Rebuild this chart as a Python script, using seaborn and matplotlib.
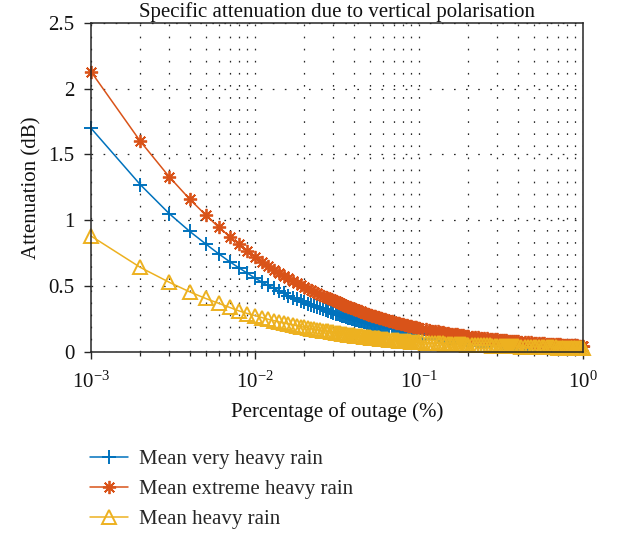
import matplotlib
matplotlib.use("Agg")
import matplotlib.pyplot as plt
import matplotlib.ticker as mticker
import numpy as np
import pandas as pd
import seaborn as sns

# Outage percentage (%)
outage = [
    0.001, 0.002, 0.003, 0.004, 0.005, 0.006, 0.007, 0.008, 0.009, 0.010,
    0.011, 0.012, 0.013, 0.014, 0.015, 0.016, 0.017, 0.018, 0.019, 0.020,
    0.021, 0.022, 0.023, 0.024, 0.025, 0.026, 0.027, 0.028, 0.029, 0.030,
    0.031, 0.032, 0.033, 0.034, 0.035, 0.036, 0.037, 0.038, 0.039, 0.040,
    0.041, 0.042, 0.043, 0.044, 0.045, 0.046, 0.047, 0.048, 0.049, 0.050,
    0.051, 0.052, 0.053, 0.054, 0.055, 0.056, 0.057, 0.058, 0.059, 0.060,
    0.062, 0.064, 0.066, 0.068, 0.070, 0.072, 0.074, 0.076, 0.078, 0.080,
    0.082, 0.084, 0.086, 0.088, 0.090, 0.092, 0.094, 0.096, 0.098, 0.100,
    0.105, 0.110, 0.115, 0.120, 0.125, 0.130, 0.135, 0.140, 0.145, 0.150,
    0.155, 0.160, 0.165, 0.170, 0.175, 0.180, 0.185, 0.190, 0.195, 0.200,
    0.21, 0.22, 0.23, 0.24, 0.25, 0.26, 0.27, 0.28, 0.29, 0.30,
    0.31, 0.32, 0.33, 0.34, 0.35, 0.36, 0.37, 0.38, 0.39, 0.40,
    0.42, 0.44, 0.46, 0.48, 0.50, 0.52, 0.54, 0.56, 0.58, 0.60,
    0.62, 0.64, 0.66, 0.68, 0.70, 0.72, 0.74, 0.76, 0.78, 0.80,
    0.82, 0.84, 0.86, 0.88, 0.90, 0.92, 0.94, 0.96, 0.98, 1.00,
]

# Attenuation (dB) for each rain class
very_heavy = [
    1.70, 1.27, 1.05, 0.915, 0.82, 0.745, 0.685, 0.637, 0.596, 0.560,
    0.530, 0.504, 0.481, 0.461, 0.443, 0.426, 0.412, 0.398, 0.386, 0.375,
    0.364, 0.354, 0.345, 0.337, 0.329, 0.322, 0.315, 0.308, 0.302, 0.296,
    0.290, 0.284, 0.279, 0.274, 0.269, 0.264, 0.260, 0.256, 0.252, 0.248,
    0.244, 0.240, 0.237, 0.233, 0.230, 0.227, 0.224, 0.221, 0.218, 0.216,
    0.213, 0.210, 0.208, 0.206, 0.203, 0.201, 0.199, 0.197, 0.195, 0.193,
    0.189, 0.185, 0.182, 0.178, 0.175, 0.172, 0.169, 0.166, 0.164, 0.161,
    0.159, 0.156, 0.154, 0.152, 0.150, 0.148, 0.146, 0.144, 0.142, 0.140,
    0.136, 0.132, 0.128, 0.125, 0.122, 0.119, 0.116, 0.114, 0.111, 0.109,
    0.107, 0.105, 0.103, 0.101, 0.0990, 0.0972, 0.0956, 0.0940, 0.0925, 0.0911,
    0.0884, 0.0859, 0.0835, 0.0814, 0.0793, 0.0774, 0.0756, 0.0739, 0.0724, 0.0708,
    0.0694, 0.0681, 0.0668, 0.0656, 0.0644, 0.0633, 0.0622, 0.0612, 0.0602, 0.0593,
    0.0575, 0.0559, 0.0544, 0.0529, 0.0516, 0.0504, 0.0492, 0.0481, 0.0471, 0.0461,
    0.0452, 0.0443, 0.0435, 0.0427, 0.0419, 0.0412, 0.0405, 0.0398, 0.0392, 0.0386,
    0.0380, 0.0374, 0.0369, 0.0364, 0.0359, 0.0354, 0.0349, 0.0345, 0.0340, 0.0336,
]
extreme_heavy = [
    2.13, 1.60, 1.33, 1.16, 1.04, 0.948, 0.876, 0.816, 0.766, 0.723,
    0.686, 0.653, 0.625, 0.600, 0.577, 0.557, 0.539, 0.522, 0.506, 0.492,
    0.479, 0.467, 0.455, 0.445, 0.435, 0.425, 0.417, 0.408, 0.400, 0.393,
    0.385, 0.377, 0.369, 0.362, 0.356, 0.349, 0.343, 0.337, 0.331, 0.326,
    0.321, 0.316, 0.311, 0.306, 0.302, 0.298, 0.294, 0.290, 0.286, 0.282,
    0.278, 0.275, 0.271, 0.268, 0.265, 0.262, 0.259, 0.256, 0.253, 0.250,
    0.245, 0.240, 0.235, 0.231, 0.227, 0.222, 0.219, 0.215, 0.211, 0.208,
    0.204, 0.201, 0.198, 0.195, 0.192, 0.190, 0.187, 0.185, 0.182, 0.180,
    0.175, 0.170, 0.166, 0.161, 0.157, 0.154, 0.150, 0.147, 0.144, 0.141,
    0.138, 0.136, 0.133, 0.131, 0.129, 0.127, 0.124, 0.122, 0.121, 0.119,
    0.115, 0.112, 0.109, 0.106, 0.104, 0.101, 0.0992, 0.0970, 0.0950, 0.0931,
    0.0913, 0.0896, 0.0879, 0.0864, 0.0849, 0.0835, 0.0821, 0.0808, 0.0795, 0.0784,
    0.0761, 0.0740, 0.0720, 0.0702, 0.0685, 0.0669, 0.0654, 0.0640, 0.0627, 0.0614,
    0.0602, 0.0591, 0.0580, 0.0570, 0.0560, 0.0551, 0.0542, 0.0533, 0.0525, 0.0517,
    0.0509, 0.0502, 0.0495, 0.0488, 0.0482, 0.0475, 0.0469, 0.0463, 0.0458, 0.0452,
]
heavy = [
    0.880, 0.641, 0.528, 0.455, 0.405, 0.368, 0.337, 0.310, 0.290, 0.274,
    0.260, 0.247, 0.237, 0.227, 0.218, 0.211, 0.204, 0.197, 0.191, 0.186,
    0.181, 0.176, 0.172, 0.168, 0.164, 0.160, 0.157, 0.154, 0.151, 0.148,
    0.145, 0.142, 0.140, 0.137, 0.135, 0.133, 0.130, 0.128, 0.126, 0.125,
    0.123, 0.121, 0.119, 0.118, 0.116, 0.115, 0.113, 0.112, 0.110, 0.109,
    0.108, 0.106, 0.105, 0.104, 0.103, 0.102, 0.101, 0.0996, 0.0986, 0.0977,
    0.0957, 0.0939, 0.0922, 0.0906, 0.0890, 0.0875, 0.0861, 0.0847, 0.0834, 0.0822,
    0.0810, 0.0798, 0.0787, 0.0776, 0.0766, 0.0756, 0.0746, 0.0736, 0.0727, 0.0719,
    0.0704, 0.0691, 0.0678, 0.0666, 0.0655, 0.0644, 0.0634, 0.0624, 0.0615, 0.0606,
    0.0598, 0.0590, 0.0583, 0.0575, 0.0568, 0.0562, 0.0555, 0.0549, 0.0543, 0.0537,
    0.0526, 0.0516, 0.0507, 0.0498, 0.0489, 0.0481, 0.0474, 0.0467, 0.0460, 0.0453,
    0.0447, 0.0441, 0.0435, 0.0430, 0.0425, 0.0420, 0.0415, 0.0410, 0.0406, 0.0402,
    0.0394, 0.0386, 0.0379, 0.0372, 0.0366, 0.0360, 0.0354, 0.0349, 0.0344, 0.0339,
    0.0334, 0.0330, 0.0325, 0.0321, 0.0318, 0.0314, 0.0310, 0.0307, 0.0303, 0.0300,
    0.0297, 0.0294, 0.0291, 0.0288, 0.0286, 0.0283, 0.0281, 0.0278, 0.0276, 0.0273,
]

series_names = ["Mean very heavy rain", "Mean extreme heavy rain", "Mean heavy rain"]
y_ticks = [0, 0.5, 1, 1.5, 2, 2.5]
y_tick_labels = ["0", "0.5", "1", "1.5", "2", "2.5"]
x_ticks = [1e-3, 1e-2, 1e-1, 1e0]
x_tick_labels = [r"$10^{-3}$", r"$10^{-2}$", r"$10^{-1}$", r"$10^{0}$"]

sns.set_theme(style="ticks")
plt.rcParams["font.family"] = ["Liberation Serif", "DejaVu Serif"]
plt.rcParams["mathtext.fontset"] = "custom"
plt.rcParams["mathtext.rm"] = "Liberation Serif"
plt.rcParams["mathtext.it"] = "Liberation Serif:italic"
plt.rcParams["lines.scale_dashes"] = False

FS = 15
axis_col = "#262626"
text_col = "#111111"

fig = plt.figure(figsize=(6.2, 5.35), dpi=100)
ax = fig.add_axes([91 / 620, 1 - 351.7 / 535, (583 - 91) / 620, (351.7 - 23) / 535])

styles = [
    dict(color="#0072BD", marker="+", markersize=9.5, markeredgewidth=1.4),
    dict(color="#D95319", marker=(8, 2, 0), markersize=9.5, markeredgewidth=1.3),
    dict(color="#EDB120", marker="^", markersize=9.5, markeredgewidth=1.4,
         markerfacecolor="none"),
]
for name, vals, st in zip(series_names, [very_heavy, extreme_heavy, heavy], styles):
    df = pd.DataFrame({"outage": outage, "att": vals})
    sns.lineplot(data=df, x="outage", y="att", ax=ax, label=name,
                 linewidth=1.1, clip_on=False, estimator=None,
                 markeredgecolor=st["color"], **st)

ax.set_xscale("log")
ax.set_xlim(1e-3, 1)
ax.set_ylim(0, 2.5)
ax.set_xticks(x_ticks)
ax.set_xticklabels(x_tick_labels)
ax.xaxis.set_minor_locator(mticker.LogLocator(base=10, subs=np.arange(2, 10)))
ax.xaxis.set_minor_formatter(mticker.NullFormatter())
ax.set_yticks(y_ticks)
ax.set_yticklabels(y_tick_labels)

dots = (0, (1.2, 7.5))
ax.grid(True, which="major", axis="both", color=axis_col, linestyle=dots, linewidth=0.9)
ax.grid(True, which="minor", axis="x", color=axis_col, linestyle=dots, linewidth=0.9)
ax.set_axisbelow(True)

for side in ["left", "bottom", "top", "right"]:
    ax.spines[side].set_visible(True)
    ax.spines[side].set_color(axis_col)
    ax.spines[side].set_linewidth(1.1)

ax.tick_params(axis="both", which="major", direction="out", length=5, width=1.0,
               colors=axis_col, labelsize=FS, labelcolor=text_col)
ax.tick_params(axis="x", which="major", pad=9)
ax.tick_params(axis="y", which="major", pad=7)
ax.tick_params(axis="x", which="minor", direction="out", length=3, width=0.9, colors=axis_col)

ax.set_xlabel("Percentage of outage (%)", fontsize=FS, color=text_col, labelpad=7)
ax.set_ylabel("Attenuation (dB)", fontsize=FS, color=text_col, labelpad=5)
ax.set_title("Specific attenuation due to vertical polarisation", fontsize=FS,
             color=text_col, pad=4)

handles, labels = ax.get_legend_handles_labels()
ax.get_legend().remove()
fig.legend(handles, labels, loc="upper left", bbox_to_anchor=(82 / 620, 1 - 441 / 535),
           frameon=False, fontsize=FS, handlelength=1.8, numpoints=1,
           labelspacing=0.5, handletextpad=0.55, borderaxespad=0)

fig.savefig("out.png", dpi=100)
